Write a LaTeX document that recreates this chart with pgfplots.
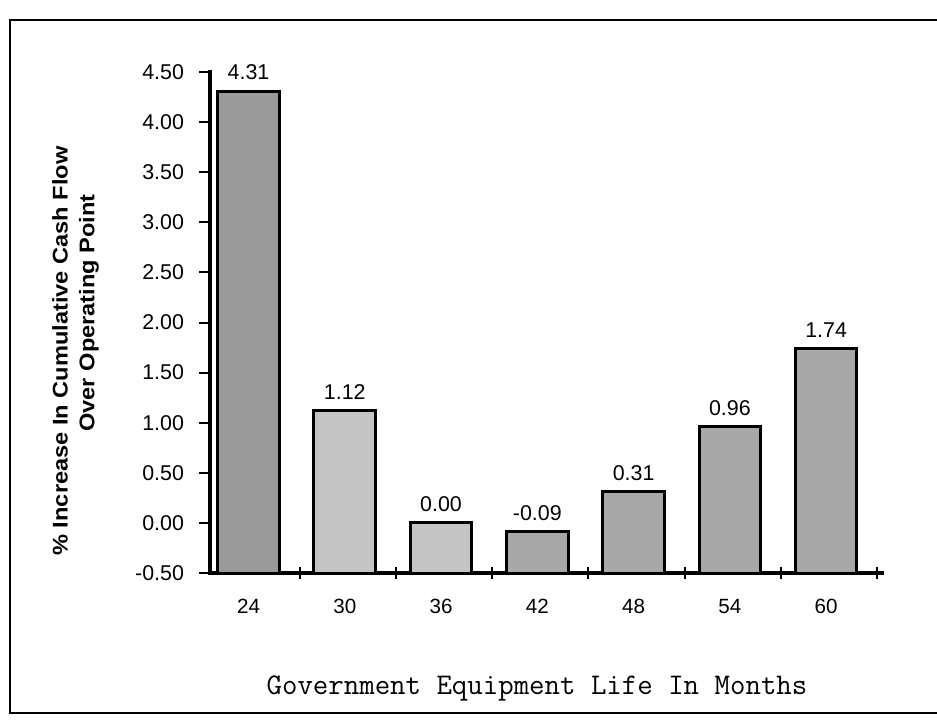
\documentclass[border=0pt]{standalone}
\usepackage{fontspec}
\setmainfont{Liberation Sans}
\usepackage{graphicx}
\usepackage{pgfplots}
\pgfplotsset{compat=1.18}
\definecolor{barA}{HTML}{9A9A9A}
\definecolor{barB}{HTML}{C4C4C4}
\definecolor{barC}{HTML}{A8A8A8}
\begin{document}
\begin{tikzpicture}
\path[use as bounding box] (-105pt,-77.5pt) rectangle (363.5pt,286.5pt);
\draw[line width=1.2pt] (363.5pt,276.5pt) -- (-100pt,276.5pt) -- (-100pt,-70pt) -- (363.5pt,-70pt);
\begin{axis}[
  at={(0pt,0pt)}, anchor=south west,
  scale only axis, width=336pt, height=250.5pt,
  xmin=-0.4, xmax=6.58,
  ymin=-0.5, ymax=4.5,
  y coord trafo/.code={\pgfmathparse{#1+0.5}},
  y coord inv trafo/.code={\pgfmathparse{#1-0.5}},
  axis x line*=bottom, axis y line*=left,
  x axis line style={line width=2.4pt, line cap=rect},
  y axis line style={line width=2.2pt, line cap=rect},
  tick style={line width=1pt, black},
  major tick length=5.5pt,
  xtick align=center, ytick align=outside,
  ytick={-0.5,0,0.5,1,1.5,2,2.5,3,3.5,4,4.5},
  yticklabel style={/pgf/number format/fixed, /pgf/number format/fixed zerofill,
    /pgf/number format/precision=2, /pgf/number format/assume math mode=true,
    font=\fontsize{10.7}{12}\selectfont, xshift=-4pt},
  xtick={0.53,1.53,2.53,3.53,4.53,5.53,6.53},
  xticklabels={24,30,36,42,48,54,60},
  xticklabel style={xshift=-25.5pt, yshift=-7pt, font=\fontsize{10.3}{12}\selectfont},
  bar width=0.64,
  every node near coord/.append style={font=\fontsize{10.7}{12}\selectfont, anchor=south, inner sep=0pt, yshift=5pt, text=black},
  clip=false,
]
\addplot[ybar, bar shift=0pt, fill=barA, draw=black, line width=1.5pt, nodes near coords, point meta=explicit symbolic] coordinates {(0,4.31) [4.31]};
\addplot[ybar, bar shift=0pt, fill=barB, draw=black, line width=1.5pt, nodes near coords, point meta=explicit symbolic] coordinates {(1,1.12) [1.12]};
\addplot[ybar, bar shift=0pt, fill=barB, draw=black, line width=1.5pt, nodes near coords, point meta=explicit symbolic] coordinates {(2,0.00) [0.00]};
\addplot[ybar, bar shift=0pt, fill=barC, draw=black, line width=1.5pt, nodes near coords, point meta=explicit symbolic] coordinates {(3,-0.09) [-0.09]};
\addplot[ybar, bar shift=0pt, fill=barC, draw=black, line width=1.5pt, nodes near coords, point meta=explicit symbolic] coordinates {(4,0.31) [0.31]};
\addplot[ybar, bar shift=0pt, fill=barC, draw=black, line width=1.5pt, nodes near coords, point meta=explicit symbolic] coordinates {(5,0.96) [0.96]};
\addplot[ybar, bar shift=0pt, fill=barC, draw=black, line width=1.5pt, nodes near coords, point meta=explicit symbolic] coordinates {(6,1.74) [1.74]};
\end{axis}
\node[rotate=90, font=\fontsize{11.8}{12}\selectfont\bfseries] at (-75pt,111pt) {\scalebox{1}[0.9]{\% Increase In Cumulative Cash Flow}};
\node[rotate=90, font=\fontsize{11.8}{12}\selectfont\bfseries] at (-60.5pt,130pt) {\scalebox{1}[0.9]{Over Operating Point}};
\node[font=\fontsize{15}{16}\selectfont\ttfamily] at (163.5pt,-57.5pt) {Government Equipment Life In Months};
\end{tikzpicture}
\end{document}
